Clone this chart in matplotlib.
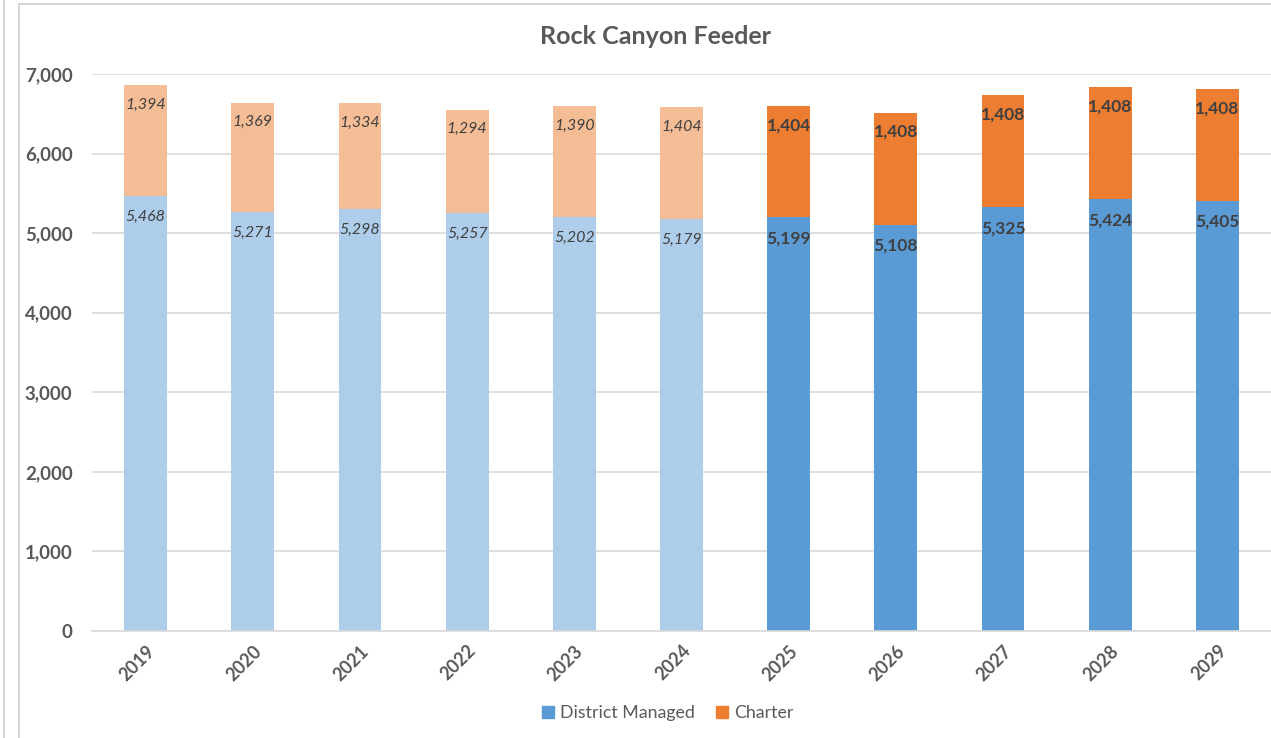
import matplotlib
matplotlib.use("Agg")
import matplotlib.pyplot as plt
from matplotlib.lines import Line2D
from matplotlib.patches import Patch
import numpy as np

years = ["2019", "2020", "2021", "2022", "2023", "2024", "2025", "2026", "2027", "2028", "2029"]
district = [5468, 5271, 5298, 5257, 5202, 5179, 5199, 5108, 5325, 5424, 5405]
charter = [1394, 1369, 1334, 1294, 1390, 1404, 1404, 1408, 1408, 1408, 1408]
projected = [False, False, False, False, False, False, True, True, True, True, True]

FONT = "Lato"
plt.rcParams["font.family"] = [FONT, "DejaVu Sans"]

BLUE = "#5B9BD5"
ORANGE = "#ED7D31"
LBLUE = "#AECDEA"
LORANGE = "#F5BD96"
TXT = "#595959"
LBL = "#404040"

fig = plt.figure(figsize=(12.71, 7.38), dpi=100)
ax = fig.add_axes([92/1271, 1-631/738, 1-92/1271, (631-74)/738])

x = np.arange(len(years))
dc = [BLUE if p else LBLUE for p in projected]
cc = [ORANGE if p else LORANGE for p in projected]
ax.bar(x, district, width=0.4, color=dc, zorder=2)
ax.bar(x, charter, width=0.4, bottom=district, color=cc, zorder=2)

ax.set_xlim(-0.5, 10.5)
ax.set_ylim(0, 7000)
ax.set_yticks(range(0, 7001, 1000))
ax.set_yticklabels([f"{v:,}" for v in range(0, 7001, 1000)])
ax.yaxis.grid(True, color="#D9D9D9", linewidth=1.2, zorder=0)
ax.set_axisbelow(True)
for s in ["top", "right", "left"]:
    ax.spines[s].set_visible(False)
ax.spines["bottom"].set_color("#D9D9D9")
ax.spines["bottom"].set_linewidth(1.2)
ax.tick_params(axis="y", length=0, colors=TXT, labelsize=13.5, pad=14)
ax.tick_params(axis="x", length=0, colors=TXT, labelsize=13, pad=8)
ax.set_xticks(x)
ax.set_xticklabels(years, rotation=45, ha="right", rotation_mode="anchor")
for t in ax.get_xticklabels() + ax.get_yticklabels():
    t.set_fontweight("bold")
    t.set_color(TXT)

# data labels
for i in range(len(years)):
    if projected[i]:
        kw = dict(fontsize=12.5, fontweight="bold", fontstyle="normal")
    else:
        kw = dict(fontsize=11.5, fontweight="normal", fontstyle="italic")
    top_d = district[i]
    top_c = district[i] + charter[i]
    ax.annotate(f"{district[i]:,}", (x[i], top_d), xytext=(0, -15), textcoords="offset points",
                ha="center", va="center", color=LBL, zorder=3, **kw)
    ax.annotate(f"{charter[i]:,}", (x[i], top_c), xytext=(0, -14), textcoords="offset points",
                ha="center", va="center", color=LBL, zorder=3, **kw)

fig.text(655/1271, 1-36/738, "Rock Canyon Feeder", ha="center", va="center",
         fontsize=18, fontweight="bold", color=TXT)

handles = [Patch(color=BLUE, label="District Managed"), Patch(color=ORANGE, label="Charter")]
leg = fig.legend(handles=handles, loc="center", bbox_to_anchor=(668/1271, 1-713/738), ncol=2,
                 frameon=False, fontsize=12.8, handlelength=0.65, handleheight=0.65,
                 handletextpad=0.35, columnspacing=1.2)
for t in leg.get_texts():
    t.set_color(TXT)

# chart borders
fig.add_artist(Line2D([4/1271, 4/1271], [0, 1], transform=fig.transFigure, color="#D0D0D0", lw=1.2))
fig.add_artist(Line2D([19/1271, 19/1271], [0, 1-4/738], transform=fig.transFigure, color="#D0D0D0", lw=1.2))
fig.add_artist(Line2D([19/1271, 1], [1-4/738, 1-4/738], transform=fig.transFigure, color="#D0D0D0", lw=1.2))

fig.savefig("out.png", dpi=100, facecolor="white")
